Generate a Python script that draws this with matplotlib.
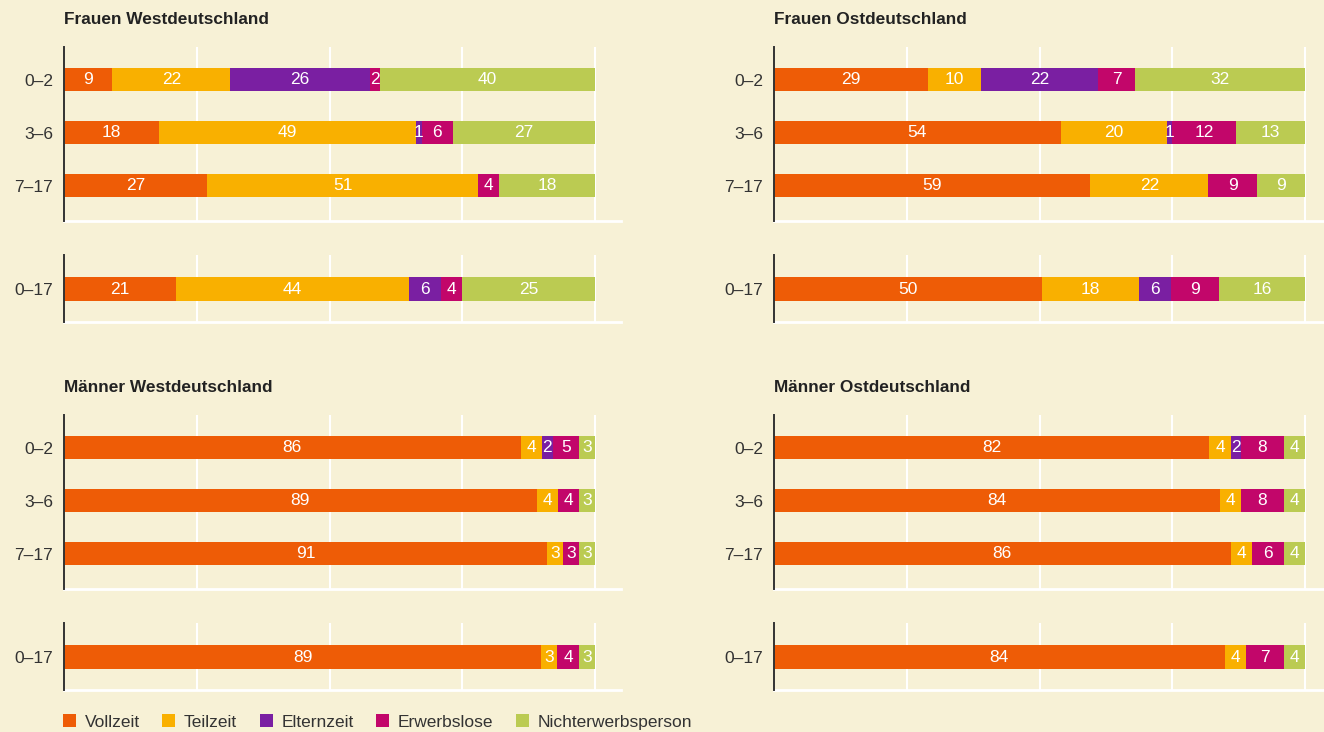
import matplotlib
matplotlib.use("Agg")
import matplotlib.pyplot as plt
from matplotlib.patches import Patch
import numpy as np

plt.rcParams['font.family'] = ['Liberation Sans', 'DejaVu Sans']

# Daten
kategorien = ['Vollzeit', 'Teilzeit', 'Elternzeit', 'Erwerbslose', 'Nichterwerbsperson']
farben = ['#ee5c06', '#f9b000', '#7a1fa2', '#c2066a', '#bbcb52']
alter_oben = ['0–2', '3–6', '7–17']
alter_unten = ['0–17']

frauen_west = [[9, 22, 26, 2, 40], [18, 49, 1, 6, 27], [27, 51, 0, 4, 18]]
frauen_west_ges = [[21, 44, 6, 4, 25]]
frauen_ost = [[29, 10, 22, 7, 32], [54, 20, 1, 12, 13], [59, 22, 0, 9, 9]]
frauen_ost_ges = [[50, 18, 6, 9, 16]]
maenner_west = [[86, 4, 2, 5, 3], [89, 4, 0, 4, 3], [91, 3, 0, 3, 3]]
maenner_west_ges = [[89, 3, 0, 4, 3]]
maenner_ost = [[82, 4, 2, 8, 4], [84, 4, 0, 8, 4], [86, 4, 0, 6, 4]]
maenner_ost_ges = [[84, 4, 0, 7, 4]]

BG = '#f7f1d6'
W, H = 1324, 732


def px_axes(fig, x0, y0, x1, y1):
    # Pixelkoordinaten (oben links) -> Figurenkoordinaten
    return fig.add_axes([x0 / W, 1 - y1 / H, (x1 - x0) / W, (y1 - y0) / H])


def balken(ax, werte, labels, xmax, ylim):
    werte = np.array(werte, dtype=float)
    anteile = werte / werte.sum(axis=1, keepdims=True) * 100
    ypos = np.arange(len(labels))
    links = np.zeros(len(labels))
    for k in range(len(kategorien)):
        ax.barh(ypos, anteile[:, k], left=links, height=0.434,
                color=farben[k], zorder=3)
        for i in range(len(labels)):
            if werte[i, k] > 0:
                ax.text(links[i] + anteile[i, k] / 2, ypos[i], f"{int(werte[i, k])}",
                        ha='center', va='center', color='white', fontsize=12.5, zorder=4)
        links += anteile[:, k]
    ax.set_facecolor(BG)
    ax.set_xlim(0, xmax)
    ax.set_ylim(*ylim)
    ax.set_yticks(ypos)
    ax.set_yticklabels(labels, fontsize=12.5, color='#333333')
    ax.set_xticks([25, 50, 75, 100])
    ax.set_xticklabels([])
    ax.tick_params(length=0, pad=8)
    ax.grid(axis='x', color='white', linewidth=1.5, zorder=1)
    for s in ['top', 'right']:
        ax.spines[s].set_visible(False)
    ax.spines['left'].set_color('#333333')
    ax.spines['left'].set_linewidth(1.4)
    ax.spines['left'].set_zorder(5)
    ax.spines['bottom'].set_color('white')
    ax.spines['bottom'].set_linewidth(2)


fig = plt.figure(figsize=(W / 100, H / 100), dpi=100)
fig.patch.set_facecolor(BG)

panels = [
    ('Frauen Westdeutschland', frauen_west, frauen_west_ges, 64, 621, 0),
    ('Frauen Ostdeutschland', frauen_ost, frauen_ost_ges, 774, 1324, 0),
    ('Männer Westdeutschland', maenner_west, maenner_west_ges, 64, 621, 368),
    ('Männer Ostdeutschland', maenner_ost, maenner_ost_ges, 774, 1324, 368),
]

for titel, oben, unten, x0, x1, dy in panels:
    xmax = (x1 - x0) / 531 * 100
    fig.text(x0 / W, 1 - (20 + dy) / H, titel, fontsize=12.4, fontweight='bold',
             color='#222222', ha='left', va='center')
    ax1 = px_axes(fig, x0, 47 + dy, x1, 221 + dy)
    balken(ax1, oben, alter_oben, xmax, (2.66, -0.62))
    ax2 = px_axes(fig, x0, 255 + dy, x1, 322 + dy)
    balken(ax2, unten, alter_unten, xmax, (0.62, -0.64))

handles = [Patch(facecolor=c, edgecolor='none') for c in farben]
fig.legend(handles, kategorien, loc='center left',
           bbox_to_anchor=(63 / W, 1 - 722 / H), ncol=5, frameon=False,
           fontsize=12.5, handlelength=0.75, handleheight=0.75,
           handletextpad=0.5, columnspacing=1.3, labelcolor='#333333',
           borderpad=0, borderaxespad=0)

fig.savefig('out.png', dpi=100, facecolor=BG)
